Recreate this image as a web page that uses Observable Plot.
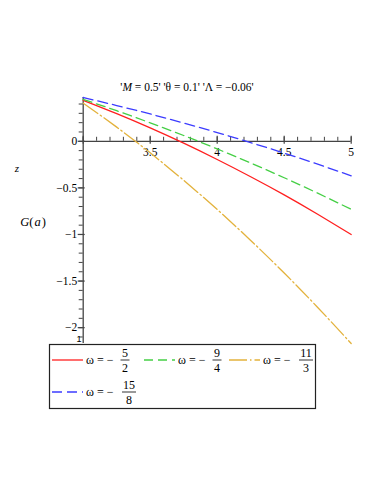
<!DOCTYPE html>
<html>
<head>
<meta charset="utf-8">
<script src="https://cdn.jsdelivr.net/npm/d3@7"></script>
<script src="https://cdn.jsdelivr.net/npm/@observablehq/plot@0.6"></script>
<style>
html,body{margin:0;padding:0;background:#fff;}
#chart{position:relative;width:382px;height:494px;}
</style>
</head>
<body>
<div id="chart"></div>
<script>
// ---- data ----
const aValues = [3, 3.25, 3.5, 3.75, 4, 4.25, 4.5, 4.75, 5];
const gOmega52  = [0.44, 0.297, 0.144, -0.02, -0.195, -0.38, -0.575, -0.783, -1.0];   // ω = −5/2
const gOmega94  = [0.45, 0.328, 0.198, 0.062, -0.082, -0.233, -0.391, -0.557, -0.73]; // ω = −9/4
const gOmega113 = [0.41, 0.152, -0.124, -0.419, -0.732, -1.064, -1.414, -1.783, -2.17]; // ω = −11/3
const gOmega158 = [0.47, 0.384, 0.293, 0.196, 0.094, -0.014, -0.127, -0.246, -0.37]; // ω = −15/8
const seriesNum = ["5", "9", "11", "15"];
const seriesDen = ["2", "4", "3", "8"];
const xTickLabels = [3.5, 4, 4.5, 5];
const yTickLabels = [0, -0.5, -1, -1.5, -2];
const titleText = ["M", " = 0.5' 'θ = 0.1' 'Λ = −0.06'"];

// ---- styles ----
const colors = ["#ff1f1f", "#45cf45", "#e3b23c", "#3c3cff"];
const dashes = [null, "9,5", "18,3,1.5,3", "10,5"];
const serif = "'Liberation Serif','Times New Roman',serif";
const axisColor = "#444";

const seriesValues = [gOmega52, gOmega94, gOmega113, gOmega158];
const series = seriesValues.map((vals, i) => ({
  num: seriesNum[i], den: seriesDen[i], color: colors[i], dash: dashes[i],
  data: aValues.map((a, j) => ({a, g: vals[j]}))
}));

const W = 382, H = 494;
const mTop = 97, mBottom = 151, mLeft = 82.7, mRight = 31.3;
const yDom = [-2.17, 0.47], xDom = [3, 5];
const pxPerY = (H - mTop - mBottom) / (yDom[1] - yDom[0]);
const pxPerX = (W - mLeft - mRight) / (xDom[1] - xDom[0]);

const xMinor = d3.range(30, 51).map(d => d / 10);
const yMinor = d3.range(-21, 5).map(d => d / 10);
const fmt = d => (d < 0 ? "−" : "") + String(Math.abs(d));

// draw order: orange, red, green, blue (blue on top)
const order = [2, 0, 1, 3];

const chart = Plot.plot({
  width: W, height: H,
  marginTop: mTop, marginBottom: mBottom, marginLeft: mLeft, marginRight: mRight,
  x: {domain: xDom, axis: null},
  y: {domain: yDom, axis: null},
  style: {background: "transparent", fontFamily: serif},
  marks: [
    // x axis
    Plot.ruleY([0], {x1: 3, x2: 5, stroke: axisColor, strokeWidth: 1.3}),
    Plot.ruleX(xMinor, {x: d => d, y1: 0, y2: 4 / pxPerY, stroke: axisColor, strokeWidth: 1}),
    Plot.ruleX([3, ...xTickLabels], {x: d => d, y1: -3 / pxPerY, y2: 5 / pxPerY, stroke: axisColor, strokeWidth: 1.2}),
    Plot.text(xTickLabels, {x: d => d, y: 0, text: fmt, lineAnchor: "top", dy: 7, fontSize: 11.5, fill: "#000", fontFamily: serif}),
    // y axis
    Plot.ruleX([3], {y1: yDom[0], y2: yDom[1], stroke: axisColor, strokeWidth: 1.3}),
    Plot.ruleY(yMinor, {y: d => d, x1: 3 - 4 / pxPerX, x2: 3, stroke: axisColor, strokeWidth: 1}),
    Plot.ruleY(yTickLabels, {y: d => d, x1: 3 - 5 / pxPerX, x2: 3 + 2 / pxPerX, stroke: axisColor, strokeWidth: 1.2}),
    Plot.text(yTickLabels, {x: 3, y: d => d, text: fmt, textAnchor: "end", dx: -6, fontSize: 11.5, fill: "#000", fontFamily: serif}),
    // curves
    ...order.map(i => Plot.line(series[i].data, {
      x: "a", y: "g", curve: "natural", stroke: series[i].color, strokeWidth: 1.3,
      strokeDasharray: series[i].dash
    }))
  ]
});
document.getElementById("chart").appendChild(chart);

// ---- annotations: title, axis label, legend ----
const svg = d3.select(chart);
const title = svg.append("text").attr("x", 187).attr("y", 91).attr("text-anchor", "middle")
  .attr("font-family", serif).attr("font-size", 11.5).attr("fill", "#000");
title.append("tspan").text("'");
title.append("tspan").attr("font-style", "italic").text(titleText[0]);
title.append("tspan").text(titleText[1]);

const gl = svg.append("text").attr("x", 33).attr("y", 226).attr("text-anchor", "middle")
  .attr("font-family", serif).attr("font-size", 12.5).attr("fill", "#000");
gl.append("tspan").attr("font-style", "italic").text("G");
gl.append("tspan").text("(");
gl.append("tspan").attr("font-style", "italic").attr("dx", 1).text("a");
gl.append("tspan").attr("dx", 1).text(")");

svg.append("text").attr("x", 17).attr("y", 172).attr("text-anchor", "middle")
  .attr("font-family", serif).attr("font-style", "italic").attr("font-size", 11).attr("fill", "#000").text("z");

svg.append("text").attr("x", 79).attr("y", 342).attr("text-anchor", "middle")
  .attr("font-family", "'Liberation Sans',Arial,sans-serif").attr("font-size", 9).attr("fill", "#000").text("1");

// legend box
svg.append("rect").attr("x", 49.5).attr("y", 344.5).attr("width", 266).attr("height", 64)
  .attr("fill", "#fff").attr("stroke", "#222").attr("stroke-width", 1.2);

const entries = [
  {i: 0, lx: 52, ty: 360, fx: 125},
  {i: 1, lx: 144, ty: 360, fx: 217},
  {i: 2, lx: 229, ty: 360, fx: 306},
  {i: 3, lx: 52, ty: 392, fx: 129}
];
entries.forEach(e => {
  const s = series[e.i];
  svg.append("line").attr("x1", e.lx).attr("x2", e.lx + 31).attr("y1", e.ty).attr("y2", e.ty)
    .attr("stroke", s.color).attr("stroke-width", 1.3).attr("stroke-dasharray", s.dash);
  svg.append("text").attr("x", e.lx + 34).attr("y", e.ty + 4).attr("text-anchor", "start")
    .attr("font-family", serif).attr("font-size", 12).attr("fill", "#000").text("ω = −");
  svg.append("text").attr("x", e.fx).attr("y", e.ty - 3).attr("text-anchor", "middle")
    .attr("font-family", serif).attr("font-size", 12).attr("fill", "#000").text(s.num);
  svg.append("text").attr("x", e.fx).attr("y", e.ty + 12).attr("text-anchor", "middle")
    .attr("font-family", serif).attr("font-size", 12).attr("fill", "#000").text(s.den);
  const bw = s.num.length > 1 ? 14 : 9;
  svg.append("line").attr("x1", e.fx - bw / 2).attr("x2", e.fx + bw / 2).attr("y1", e.ty).attr("y2", e.ty)
    .attr("stroke", "#000").attr("stroke-width", 0.8);
});
</script>
</body>
</html>
